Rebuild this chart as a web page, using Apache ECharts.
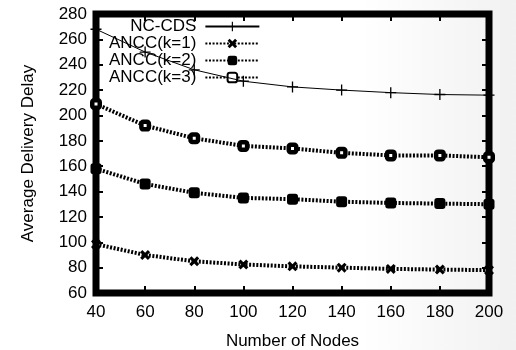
<!DOCTYPE html>
<html>
<head>
<meta charset="utf-8">
<script src="https://cdn.jsdelivr.net/npm/echarts@6/dist/echarts.min.js"></script>
<style>
  html, body { margin: 0; padding: 0; background: #fff; }
  #chart { width: 516px; height: 350px; }
</style>
</head>
<body>
<div id="chart"></div>
<script>
// Number of nodes on the x axis
const nodes = [40, 60, 80, 100, 120, 140, 160, 180, 200];

// Average delivery delay per scheme
const ncCds = [268, 250, 236, 227, 222.5, 220, 218, 216.5, 216];
const anccK1 = [98.5, 90, 85, 82.5, 81, 80, 79, 78.5, 78];
const anccK2 = [158, 146, 139, 135, 134, 132, 131, 130.5, 130];
const anccK3 = [209, 192, 182, 176, 174, 170.5, 168.5, 168.5, 167];

const seriesNames = ['NC-CDS', 'ANCC(k=1)', 'ANCC(k=2)', 'ANCC(k=3)'];

const FONT = 'Liberation Sans, Arial, Helvetica, sans-serif';

const plusPath = 'path://M4.4,0H5.6V4.4H10V5.6H5.6V10H4.4V5.6H0V4.4H4.4Z';
const crossPath = 'path://M0,2.2L2.2,0L5,2.8L7.8,0L10,2.2L7.2,5L10,7.8L7.8,10L5,7.2L2.2,10L0,7.8L2.8,5Z';

function pairs(vals) {
  return nodes.map((n, i) => [n, vals[i]]);
}

const dotted = { color: '#000', width: 4, type: [2, 1.6] };
const tick = { show: true, inside: true, length: 7, lineStyle: { color: '#000', width: 2 } };

const chart = echarts.init(document.getElementById('chart'), null, { renderer: 'canvas' });

chart.setOption({
  animation: false,
  backgroundColor: {
    type: 'linear', x: 0, y: 0, x2: 1, y2: 0,
    colorStops: [
      { offset: 0, color: '#ffffff' },
      { offset: 0.7, color: '#ffffff' },
      { offset: 1, color: '#f1f1f1' }
    ]
  },
  textStyle: { fontFamily: FONT },
  grid: {
    left: 96, right: 27, top: 14, bottom: 57,
    outerBoundsMode: 'none',
    containLabel: false,
    show: true, borderColor: '#000', borderWidth: 7, backgroundColor: 'transparent'
  },
  legend: {
    orient: 'vertical',
    align: 'right',
    left: 104, top: 13,
    itemWidth: 54, itemHeight: 12, itemGap: 0,
    textStyle: { fontFamily: FONT, fontSize: 17, lineHeight: 16, color: '#000', padding: [0, 4, 0, 0] },
    data: seriesNames
  },
  xAxis: [{
    type: 'value', min: 40, max: 200, interval: 20,
    name: 'Number of Nodes', nameLocation: 'middle', nameGap: 40,
    nameTextStyle: { fontFamily: FONT, fontSize: 17, color: '#000' },
    axisLine: { show: false },
    axisTick: tick,
    axisLabel: { fontFamily: FONT, fontSize: 17, color: '#000', margin: 11 },
    splitLine: { show: false }
  }, {
    type: 'value', min: 40, max: 200, interval: 20, position: 'top',
    axisLine: { show: false },
    axisTick: tick,
    axisLabel: { show: false },
    splitLine: { show: false }
  }],
  yAxis: [{
    type: 'value', min: 60, max: 280, interval: 20,
    name: 'Average Delivery Delay', nameLocation: 'middle', nameGap: 59,
    nameTextStyle: { fontFamily: FONT, fontSize: 17, color: '#000' },
    axisLine: { show: false },
    axisTick: tick,
    axisLabel: { fontFamily: FONT, fontSize: 17, color: '#000', margin: 9 },
    splitLine: { show: false }
  }, {
    type: 'value', min: 60, max: 280, interval: 20, position: 'right',
    axisLine: { show: false },
    axisTick: tick,
    axisLabel: { show: false },
    splitLine: { show: false }
  }],
  series: [{
    name: seriesNames[0], type: 'line', data: pairs(ncCds),
    symbol: plusPath, symbolSize: 11,
    itemStyle: { color: '#000' },
    lineStyle: { color: '#000', width: 1 },
    z: 5
  }, {
    name: seriesNames[1], type: 'line', data: pairs(anccK1),
    symbol: crossPath, symbolSize: 10,
    itemStyle: { color: '#000' },
    lineStyle: dotted
  }, {
    name: seriesNames[2], type: 'line', data: pairs(anccK2),
    symbol: 'roundRect', symbolSize: 11,
    itemStyle: { color: '#000' },
    lineStyle: dotted
  }, {
    name: seriesNames[3], type: 'line', data: pairs(anccK3),
    symbol: 'roundRect', symbolSize: 7.5,
    itemStyle: { color: '#fff', borderColor: '#000', borderWidth: 4.5 },
    lineStyle: dotted
  }]
});
</script>
</body>
</html>
